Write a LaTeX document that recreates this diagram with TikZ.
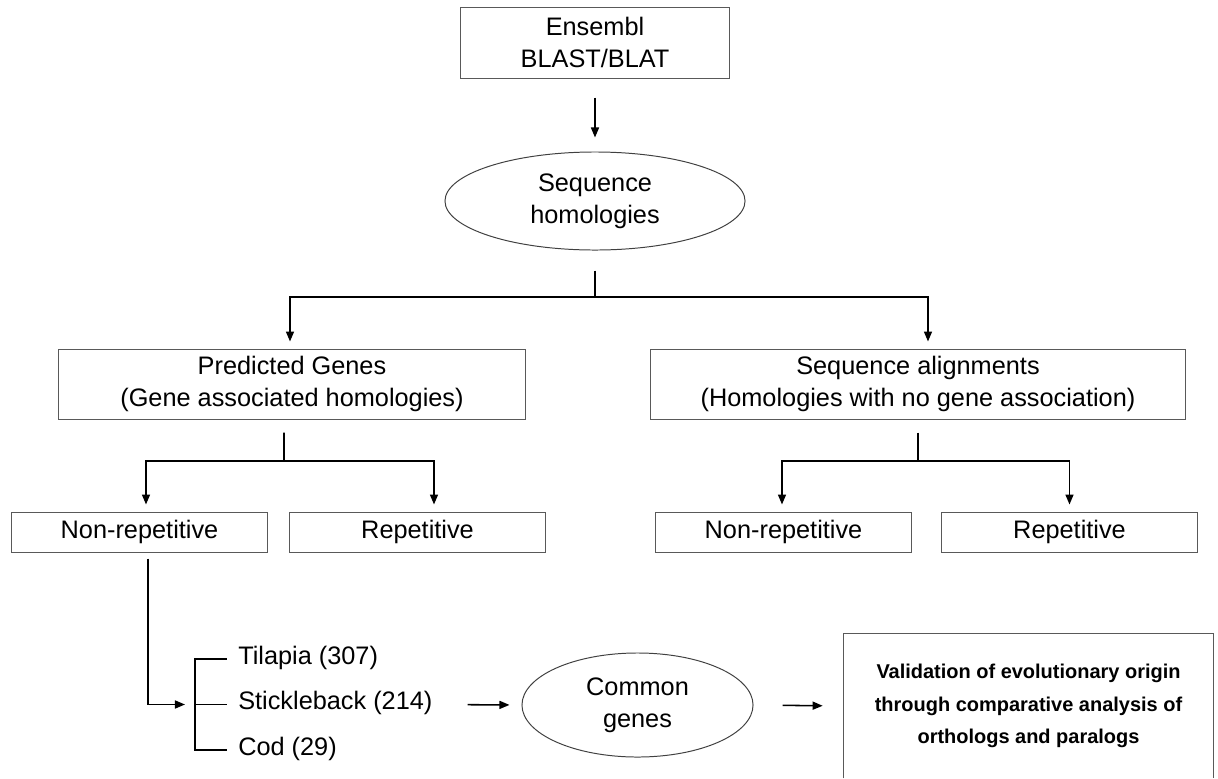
\documentclass[tikz,border=0pt]{standalone}
\usepackage{fontspec}
\setmainfont{Liberation Sans}
\usetikzlibrary{arrows.meta,shapes.geometric}

\begin{document}
\begin{tikzpicture}[x=0.025cm, y=-0.025cm,
		box/.style={draw=black!65, line width=0.7pt, inner sep=0pt, align=center,
			font=\fontsize{18}{23}\selectfont},
		oval/.style={ellipse, draw=black!75, line width=0.7pt, inner sep=0pt, align=center,
			font=\fontsize{18}{23}\selectfont},
		fish/.style={anchor=west, inner sep=0pt, text height=0.716em, text depth=0pt,
			font=\fontsize{18}{23}\selectfont},
		link/.style={line width=1.1pt},
		arr/.style={line width=1.1pt, -{Triangle[length=0.25cm,width=0.2cm]}}]
			\useasboundingbox (0, 0) rectangle (1218, 778);

			%%draw the boxes
			\node[box, minimum width=6.725cm, minimum height=1.775cm] (ens) at (595, 42.5){Ensembl\\BLAST/BLAT};
			\node[oval, minimum width=7.5cm, minimum height=2.45cm] (seqh) at (595, 201){Sequence\\homologies};

			\node[box, minimum width=11.65cm, minimum height=1.75cm] (pred) at (292, 384){Predicted Genes\\(Gene associated homologies)};
			\node[box, minimum width=13.35cm, minimum height=1.75cm] (seqal) at (918, 384){Sequence alignments\\(Homologies with no gene association)};

			\node[box, minimum width=6.375cm, minimum height=1cm] (nrl) at (139.5, 532){Non-repetitive};
			\node[box, minimum width=6.375cm, minimum height=1cm] (repl) at (417.5, 532){Repetitive};
			\node[box, minimum width=6.375cm, minimum height=1cm] (nrr) at (783.5, 532){Non-repetitive};
			\node[box, minimum width=6.375cm, minimum height=1cm] (repr) at (1069.5, 532){Repetitive};

			%%the fish list
			\node[fish] (tilapia) at (238, 659){Tilapia (307)};
			\node[fish] (stick) at (238, 704.5){Stickleback (214)};
			\node[fish] (cod) at (238, 750){Cod (29)};

			\node[oval, minimum width=5.775cm, minimum height=2.6cm] (common) at (637.5, 705){Common\\genes};
			\node[inner sep=0pt, minimum width=9.225cm, minimum height=3.6cm, align=center,
				font=\fontsize{14.2}{23}\selectfont\bfseries] (valid) at (1028.5, 706)
				{Validation of evolutionary origin\\through comparative analysis of\\orthologs and paralogs};
			\draw[draw=black!65, line width=0.7pt] (valid.south west) -- (valid.north west) -- (valid.north east) -- (valid.south east);

			%%draw the connectors
			\draw[arr, shorten <=0.475cm, shorten >=0.35cm] (ens.south) -- (seqh.north);

			%%first fork
			\coordinate (f1) at (595, 297);
			\draw[link] ([yshift=-0.5cm]seqh.south) -- (f1);
			\draw[arr] (f1) -| ([xshift=-0.05cm, yshift=0.175cm]pred.north);
			\draw[arr] (f1) -| ([xshift=0.25cm, yshift=0.175cm]seqal.north);

			%%left fork
			\coordinate (f2) at (284, 461);
			\draw[link] ([xshift=-0.2cm, yshift=-0.325cm]pred.south) -- (f2);
			\draw[arr] (f2) -| ([xshift=0.1625cm, yshift=0.175cm]nrl.north);
			\draw[arr] (f2) -| ([xshift=0.4125cm, yshift=0.175cm]repl.north);

			%%right fork
			\coordinate (f3) at (918, 461);
			\draw[link] ([yshift=-0.325cm]seqal.south) -- (f3);
			\draw[arr] (f3) -| ([xshift=-0.0375cm, yshift=0.175cm]nrr.north);
			\draw[arr] (f3) -| ([yshift=0.175cm]repr.north);

			%%bracket of the fish
			\coordinate (br) at (195, 704.5);
			\draw[arr, shorten >=0.25cm] ([xshift=0.2125cm, yshift=-0.15cm]nrl.south) |- (br);
			\draw[link] ([xshift=-0.275cm]tilapia.west) -- (tilapia.west -| br) -- (cod.west -| br) -- ([xshift=-0.275cm]cod.west);
			\draw[link] (br) -- ([xshift=-0.275cm]stick.west);

			\draw[arr, shorten <=0.875cm, shorten >=0.3cm] (stick.east) -- (common.west);
			\draw[arr, shorten <=0.725cm, shorten >=0.525cm] (common.east) -- (valid.west);
		\end{tikzpicture}
\end{document}
